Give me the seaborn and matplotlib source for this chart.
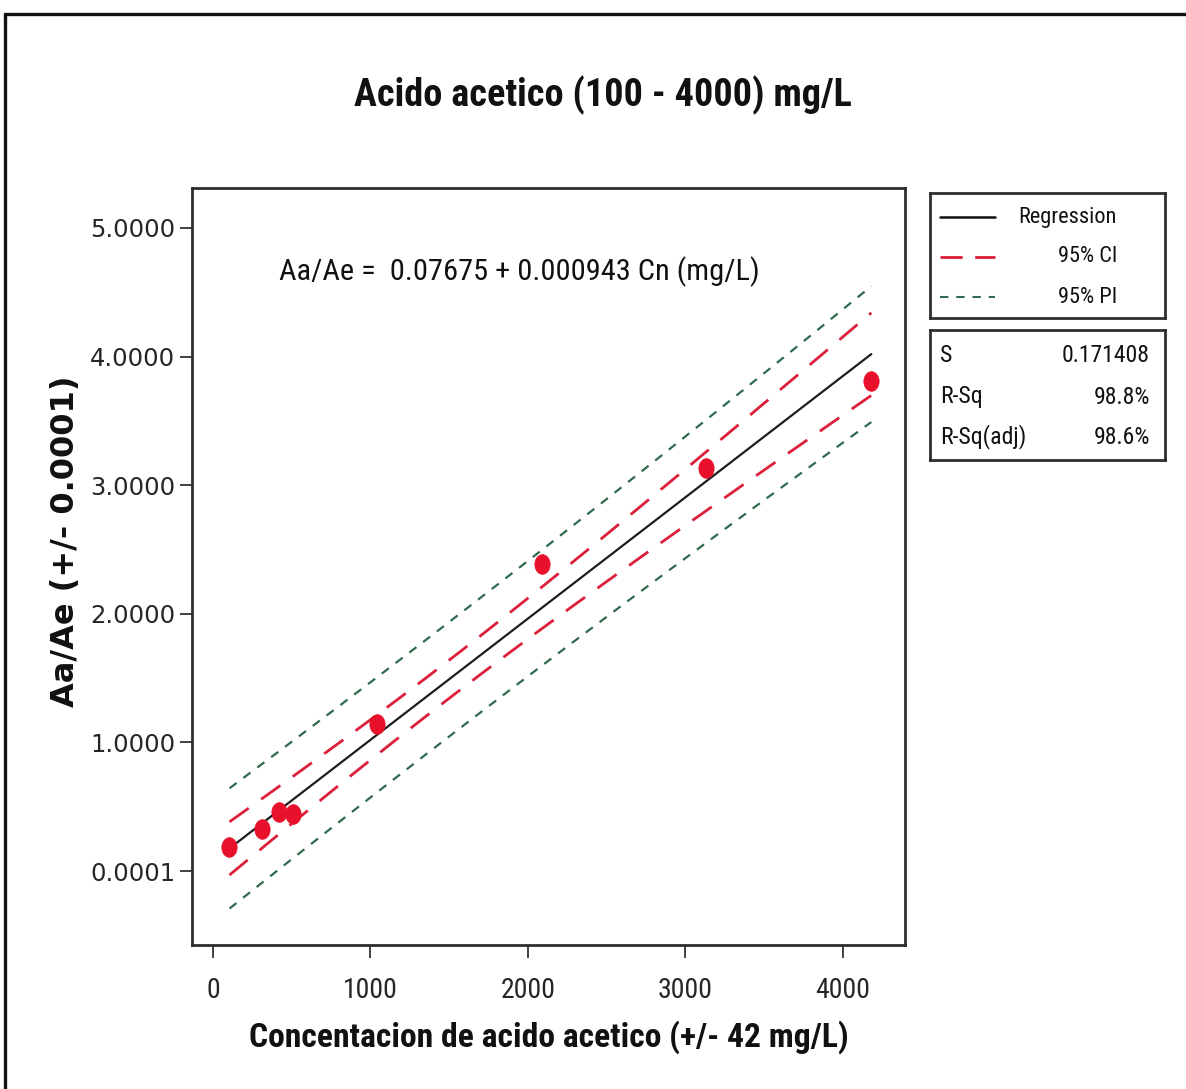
import numpy as np
import pandas as pd
import matplotlib
matplotlib.use("Agg")
import matplotlib.pyplot as plt
from matplotlib import font_manager
from matplotlib.lines import Line2D
import seaborn as sns

# Calibration data: acetic acid concentration vs. area ratio
conc = [105, 310, 420, 510, 1040, 2090, 3130, 4180]
ratio = [0.19, 0.33, 0.46, 0.44, 1.14, 2.39, 3.13, 3.81]

# Fitted model and summary statistics
intercept = 0.07675
slope = 0.000943
s_value = 0.171408
r_sq = 98.8
r_sq_adj = 98.6
t_crit = 2.447  # Student t, 97.5% quantile, 6 degrees of freedom

x_ticks = [0, 1000, 2000, 3000, 4000]
y_ticks = [0.0001, 1.0, 2.0, 3.0, 4.0, 5.0]
y_tick_labels = ["0.0001", "1.0000", "2.0000", "3.0000", "4.0000", "5.0000"]

title = "Acido acetico (100 - 4000) mg/L"
x_label = "Concentacion de acido acetico (+/- 42 mg/L)"
y_label = "Aa/Ae (+/- 0.0001)"
equation = "Aa/Ae =  0.07675 + 0.000943 Cn (mg/L)"

sns.set_style("white")

# pick a condensed face for the horizontal texts
entries = font_manager.fontManager.ttflist
names = {f.name for f in entries}
if "Liberation Sans Narrow" in names:
    NARROW = dict(family=["Liberation Sans Narrow", "DejaVu Sans"], stretch="normal")
    SCALE = 1.0
elif "Roboto Condensed" in names:
    NARROW = dict(family=["Roboto Condensed", "DejaVu Sans"], stretch="normal")
    SCALE = 0.95
elif any(f.name == "DejaVu Sans" and str(f.stretch) == "condensed" for f in entries):
    NARROW = dict(family=["DejaVu Sans"], stretch="condensed")
    SCALE = 0.9
else:
    NARROW = dict(family=["Roboto", "DejaVu Sans"], stretch="normal")
    SCALE = 0.82
plt.rcParams["font.family"] = NARROW["family"]


def nfont(size, weight="normal"):
    return dict(family=NARROW["family"], fontstretch=NARROW["stretch"],
                fontsize=size * SCALE, fontweight=weight)


W, H = 1186, 1089
fig = plt.figure(figsize=(W / 100, H / 100), dpi=100)
fig.patch.set_facecolor("white")


def fx(px):
    return px / W


def fy(py):
    return 1 - py / H


# outer frame of the page
fig.add_artist(Line2D([fx(5), fx(1186)], [fy(14), fy(14)], color="#111111", lw=2.4))
fig.add_artist(Line2D([fx(5), fx(5)], [fy(14), fy(1089)], color="#111111", lw=2.4))

ax = fig.add_axes([fx(192), fy(945), (905 - 192) / W, (945 - 188) / H])

df = pd.DataFrame({"conc": conc, "ratio": ratio})

# regression line with confidence and prediction bands
x_arr = np.asarray(conc, dtype=float)
n = len(x_arr)
x_bar = x_arr.mean()
sxx = ((x_arr - x_bar) ** 2).sum()
grid = np.linspace(x_arr.min(), x_arr.max(), 200)
fit = intercept + slope * grid
ci = t_crit * s_value * np.sqrt(1 / n + (grid - x_bar) ** 2 / sxx)
pi = t_crit * s_value * np.sqrt(1 + 1 / n + (grid - x_bar) ** 2 / sxx)
bands = pd.DataFrame({
    "conc": grid, "fit": fit,
    "ci_lo": fit - ci, "ci_hi": fit + ci,
    "pi_lo": fit - pi, "pi_hi": fit + pi,
})

green = "#2f6b4c"
red = "#dc1f3a"
ci_dash = (0, (8.5, 5.5))
pi_dash = (0, (4, 3.8))
for col in ["pi_lo", "pi_hi"]:
    sns.lineplot(data=bands, x="conc", y=col, ax=ax, color=green, lw=1.6,
                 dashes=False, linestyle=pi_dash)
for col in ["ci_lo", "ci_hi"]:
    sns.lineplot(data=bands, x="conc", y=col, ax=ax, color=red, lw=2.0,
                 dashes=False, linestyle=ci_dash)
sns.lineplot(data=bands, x="conc", y="fit", ax=ax, color="#1e1e1e", lw=1.6)

# slightly tall oval markers
theta = np.linspace(0, 2 * np.pi, 48)
oval = list(zip(0.78 * np.cos(theta), np.sin(theta)))
sns.scatterplot(data=df, x="conc", y="ratio", ax=ax, marker=oval, s=200,
                color="#e8102a", edgecolor="#e8102a", linewidth=0.5, zorder=5)

ax.set_xlim(-133, 4394)
ax.set_ylim(-0.575, 5.31)
ax.set_xticks(x_ticks)
ax.set_xticklabels([str(v) for v in x_ticks], **nfont(21))
ax.set_yticks(y_ticks)
ax.set_yticklabels(y_tick_labels, family=["DejaVu Sans"], fontsize=17.5)
ax.tick_params(axis="x", direction="out", length=9, width=1.3, color="#333333", pad=14, bottom=True)
ax.tick_params(axis="y", direction="out", length=9, width=1.3, color="#333333", pad=3, left=True)
ax.set_xlabel("")
ax.set_ylabel("")
for sp in ax.spines.values():
    sp.set_color("#2e2e2e")
    sp.set_linewidth(2.0)

ax.text(fx(519), fy(272), equation, transform=fig.transFigure, ha="center", va="center",
        color="#111111", **nfont(23))

fig.text(fx(603), fy(95), title, ha="center", va="center", color="#111111", **nfont(29, "bold"))
fig.text(fx(549), fy(1037), x_label, ha="center", va="center", color="#111111", **nfont(25.5, "bold"))
fig.text(fx(66), fy(541), y_label, ha="center", va="center", rotation=90,
         fontsize=23, fontweight="bold", family=["DejaVu Sans"], color="#111111")

# legend box
lax = fig.add_axes([fx(930), fy(318), (1165 - 930) / W, (318 - 193) / H])
lax.set_xlim(0, 235)
lax.set_ylim(125, 0)
lax.set_xticks([])
lax.set_yticks([])
for sp in lax.spines.values():
    sp.set_color("#2e2e2e")
    sp.set_linewidth(2.0)
lax.plot([10, 65], [24, 24], color="#111111", lw=1.8)
lax.plot([10, 65], [64, 64], color=red, lw=2.0, linestyle=(0, (8, 4.5)))
lax.plot([10, 65], [104, 104], color=green, lw=1.5, linestyle=pi_dash)
for yy, lab in [(24, "Regression"), (64, "95% CI"), (104, "95% PI")]:
    lax.text(187, yy, lab, ha="right", va="center", color="#111111", **nfont(17))

# summary statistics box
sax = fig.add_axes([fx(930), fy(460), (1165 - 930) / W, (460 - 330) / H])
sax.set_xlim(0, 235)
sax.set_ylim(130, 0)
sax.set_xticks([])
sax.set_yticks([])
for sp in sax.spines.values():
    sp.set_color("#2e2e2e")
    sp.set_linewidth(2.0)
stats = [("S", f"{s_value:.6f}"), ("R-Sq", f"{r_sq:.1f}%"), ("R-Sq(adj)", f"{r_sq_adj:.1f}%")]
for yy, (k, v) in zip([25, 67, 107], stats):
    sax.text(10, yy, k, ha="left", va="center", color="#111111", **nfont(18))
    sax.text(220, yy, v, ha="right", va="center", color="#111111", **nfont(18))

fig.savefig("out.png", dpi=100, facecolor="white")
